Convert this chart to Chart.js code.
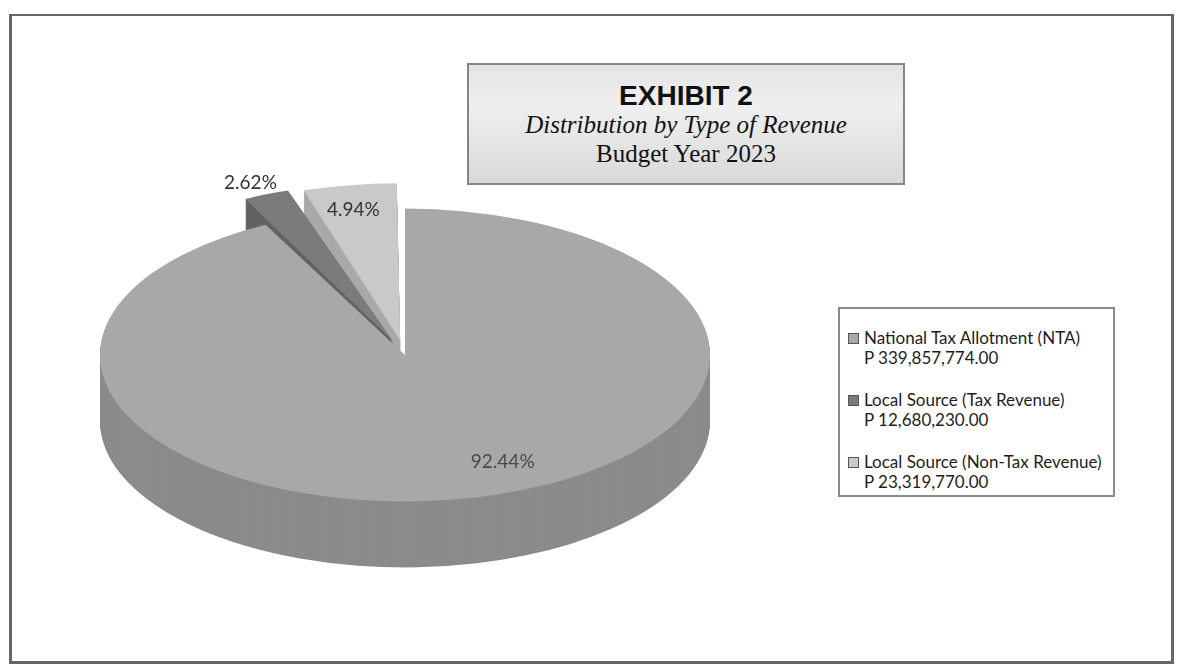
<!DOCTYPE html>
<html>
<head>
<meta charset="utf-8">
<script src="https://cdn.jsdelivr.net/npm/chart.js@4.4.1/dist/chart.umd.min.js"></script>
<style>
  body { margin: 0; width: 1178px; height: 665px; background: #fff; position: relative; overflow: hidden; }
  #marco { position: absolute; left: 9px; top: 14px; width: 1159px; height: 645px; border: 3px solid #666; border-top-width: 2px; }
  #grafico { position: absolute; left: 0; top: 0; }
  #titulo {
    position: absolute; left: 467px; top: 63px; width: 434px; height: 118px;
    border: 2px solid #858585;
    background: linear-gradient(to bottom, #e4e4e4 0%, #efefef 35%, #d9d9d9 100%);
  }
  .lineaTitulo { position: absolute; left: 0; width: 100%; text-align: center; color: #111; white-space: nowrap; }
  #t1 { top: 15px; font: bold 28px "Liberation Sans", Arial, sans-serif; line-height: 31px; }
  #t2 { top: 46px; font: italic 25px "Liberation Serif", "Times New Roman", serif; line-height: 28px; }
  #t3 { top: 75px; font: 25px "Liberation Serif", "Times New Roman", serif; line-height: 28px; }
  #leyenda {
    position: absolute; left: 838px; top: 307px; width: 273px; height: 186px;
    border: 2px solid #8a8a8a; background: #fff;
    font: 17px Lato, "Noto Sans", sans-serif; color: #1e1e1e;
  }
  .item { position: absolute; left: 8px; line-height: 19.5px; white-space: nowrap; }
  .icono { display: inline-block; width: 9px; height: 9px; border: 1px solid #555; margin-right: 5px; vertical-align: 0px; }
  .monto { padding-left: 16px; }
</style>
</head>
<body>
<div id="marco"></div>
<canvas id="grafico" width="1178" height="665"></canvas>
<div id="titulo">
  <div class="lineaTitulo" id="t1">EXHIBIT 2</div>
  <div class="lineaTitulo" id="t2">Distribution by Type of Revenue</div>
  <div class="lineaTitulo" id="t3">Budget Year 2023</div>
</div>
<div id="leyenda"></div>

<script>
// datos
const categorias = ["National Tax Allotment (NTA)", "Local Source (Tax Revenue)", "Local Source (Non-Tax Revenue)"];
const montos = [339857774.00, 12680230.00, 23319770.00];
const porcentajes = [92.44, 2.62, 4.94];

// estilo
const colorCara = ["#a8a8a8", "#7b7b7b", "#c9c9c9"];
const colorLado = ["#8b8b8b", "#626262", "#a9a9a9"];
const desplazamiento = [0, 125, 125];
const ajusteEtiqueta = [
  { radio: 0.8, giro: -10 },
  { radio: 1.09, giro: -1 },
  { radio: 0.83, giro: -1 }
];

const CENTRO_Y = 355;
const ACHATADO = 0.48;
const PROFUNDIDAD = 66;

// leyenda armada desde los arreglos
let leyendaHTML = "";
categorias.forEach((cat, i) => {
  const top = 328 - 307 - 2 + i * 62;
  const monto = "P " + montos[i].toLocaleString("en-US", { minimumFractionDigits: 2, maximumFractionDigits: 2 });
  leyendaHTML += `<div class="item" style="top:${top}px"><span class="icono" style="background:${colorCara[i]}"></span>${cat}<br><span class="monto">${monto}</span></div>`;
});
document.getElementById("leyenda").innerHTML = leyendaHTML;

const pastel3D = {
  id: "pastel3D",
  beforeDatasetsDraw(chart) {
    const ctx = chart.ctx;
    const meta = chart.getDatasetMeta(0);
    const cy = meta.data[0].y;

    // costados: capas corridas hacia abajo
    for (let d = PROFUNDIDAD; d >= 1; d--) {
      ctx.save();
      ctx.translate(0, CENTRO_Y + d);
      ctx.scale(1, ACHATADO);
      ctx.translate(0, -cy);
      meta.data.forEach((arco, i) => {
        const copia = Object.create(arco);
        copia.options = Object.assign({}, arco.options, { backgroundColor: colorLado[i], borderWidth: 0 });
        copia.draw(ctx);
      });
      ctx.restore();
    }

    // la cara de arriba la dibuja Chart.js con esta transformacion
    ctx.save();
    ctx.translate(0, CENTRO_Y);
    ctx.scale(1, ACHATADO);
    ctx.translate(0, -cy);
  },
  afterDatasetsDraw(chart) {
    const ctx = chart.ctx;
    ctx.restore();

    const meta = chart.getDatasetMeta(0);
    ctx.save();
    ctx.font = "19px Lato, 'Noto Sans', sans-serif";
    ctx.textAlign = "center";
    ctx.textBaseline = "middle";
    meta.data.forEach((arco, i) => {
      const medio = (arco.startAngle + arco.endAngle) / 2;
      const circ = arco.endAngle - arco.startAngle;
      const off = (arco.options.offset || 0) / 4;
      const mov = off * (2 - Math.sin(Math.min(Math.PI, circ)));
      const ang = medio + ajusteEtiqueta[i].giro * Math.PI / 180;
      const r = arco.outerRadius * ajusteEtiqueta[i].radio;
      const ux = Math.cos(ang) * r + Math.cos(medio) * mov;
      const uy = Math.sin(ang) * r + Math.sin(medio) * mov;
      ctx.fillStyle = i === 0 ? "#4a4a4a" : "#333";
      ctx.fillText(porcentajes[i].toFixed(2) + "%", arco.x + ux, CENTRO_Y + uy * ACHATADO);
    });
    ctx.restore();
  }
};

new Chart(document.getElementById("grafico"), {
  type: "pie",
  data: {
    labels: categorias,
    datasets: [{
      data: porcentajes,
      backgroundColor: colorCara,
      borderWidth: 0,
      offset: desplazamiento,
      radius: 305,
      clip: false
    }]
  },
  options: {
    responsive: false,
    animation: false,
    events: [],
    layout: { padding: { left: 0, right: 368, top: 0, bottom: 0 } },
    plugins: {
      legend: { display: false },
      tooltip: { enabled: false }
    }
  },
  plugins: [pastel3D]
});
</script>
</body>
</html>
